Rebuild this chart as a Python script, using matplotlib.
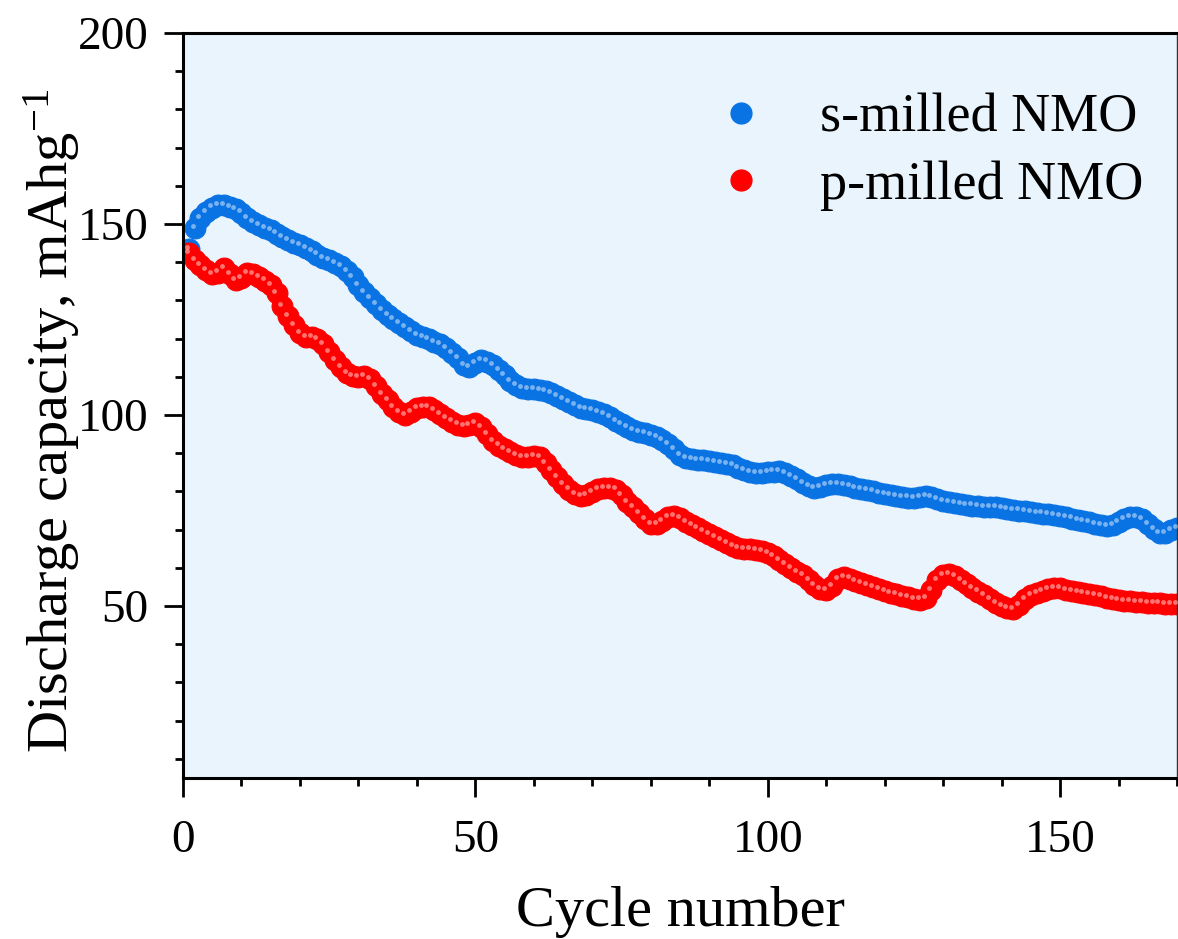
import numpy as np
import matplotlib
matplotlib.use('Agg')
import matplotlib.pyplot as plt
from matplotlib.lines import Line2D
from matplotlib.ticker import MultipleLocator
import matplotlib.transforms as mtrans

plt.rcParams['font.family'] = ['Liberation Serif', 'DejaVu Serif']
plt.rcParams['mathtext.fontset'] = 'custom'
plt.rcParams['mathtext.rm'] = 'Liberation Serif'
plt.rcParams['mathtext.it'] = 'Liberation Serif:italic'

# discharge capacity per cycle, mAh/g
s_milled = [
    143.5, 149.0, 151.5, 153.2, 154.3, 155.0, 155.0, 154.5, 153.8, 153.0,
    151.5, 150.5, 149.8, 149.0, 148.3, 147.5, 146.5, 145.8, 145.0, 144.5,
    143.8, 142.8, 142.0, 141.2, 140.5, 139.8, 139.0, 137.8, 136.0, 134.0,
    132.3, 130.5, 129.0, 127.5, 126.2, 125.0, 124.0, 123.0, 122.0, 121.0,
    120.3, 119.8, 119.2, 118.5, 117.5, 116.3, 114.8, 113.0, 112.5, 113.5,
    114.3, 114.0, 113.0, 111.8, 110.5, 109.0, 107.8, 107.0, 106.8, 106.8,
    106.5, 106.3, 105.8, 105.0, 104.2, 103.3, 102.5, 101.8, 101.5, 101.2,
    100.8, 100.3, 99.5, 98.5, 97.6, 96.8, 96.0, 95.5, 95.2, 94.8,
    94.2, 93.5, 92.4, 91.0, 89.5, 88.7, 88.4, 88.3, 88.2, 88.0,
    87.8, 87.5, 87.2, 86.8, 86.2, 85.6, 85.1, 84.9, 84.9, 85.0,
    85.2, 85.3, 84.8, 84.0, 83.2, 82.3, 81.5, 81.0, 81.2, 81.7,
    82.0, 81.9, 81.7, 81.4, 81.0, 80.7, 80.4, 80.0, 79.6, 79.3,
    79.1, 78.9, 78.6, 78.4, 78.3, 78.6, 78.8, 78.6, 78.0, 77.6,
    77.3, 77.0, 76.7, 76.5, 76.3, 76.1, 76.0, 75.9, 75.8, 75.6,
    75.4, 75.2, 75.0, 74.8, 74.6, 74.4, 74.2, 74.0, 73.8, 73.5,
    73.2, 72.9, 72.6, 72.3, 71.9, 71.5, 71.1, 70.9, 71.2, 72.0,
    72.8, 73.3, 73.4, 72.8, 71.5, 70.2, 69.2, 69.0, 69.8, 70.4,
]
p_milled = [
    142.3, 140.5, 139.3, 138.0, 136.8, 137.3, 138.5, 137.0, 135.3, 135.8,
    137.2, 137.0, 136.2, 135.2, 134.0, 132.0, 128.5, 125.8, 123.5, 121.5,
    120.5, 120.3, 120.0, 118.5, 116.5, 114.5, 112.5, 111.0, 110.2, 110.0,
    110.3, 109.5, 107.5, 105.5, 103.8, 102.2, 100.8, 100.0, 100.7, 101.8,
    102.2, 102.0, 101.3, 100.3, 99.2, 98.3, 97.5, 97.0, 97.3, 97.8,
    96.8, 95.0, 93.3, 92.0, 91.0, 90.2, 89.5, 89.0, 88.9, 89.3,
    89.0, 87.5, 85.5, 83.7, 82.0, 80.5, 79.2, 78.7, 79.0, 79.8,
    80.6, 81.0, 81.0, 80.5, 79.0, 77.3, 75.8, 74.3, 72.8, 71.5,
    71.5, 72.3, 73.3, 73.6, 73.0, 72.0, 71.2, 70.4, 69.6, 68.8,
    68.0, 67.2, 66.4, 65.6, 65.1, 64.9, 64.8, 64.6, 64.3, 63.8,
    63.0, 62.0, 61.0, 60.0, 59.0, 58.0, 56.8, 55.5, 54.5, 54.2,
    55.3, 57.0, 57.6, 57.2, 56.6, 56.0, 55.4, 54.9, 54.4, 54.0,
    53.5, 53.1, 52.7, 52.3, 51.9, 51.7, 52.2, 54.3, 56.8, 58.2,
    58.4, 57.8, 56.8, 55.8, 54.8, 53.8, 52.8, 51.8, 50.8, 50.0,
    49.4, 49.3, 50.2, 51.8, 52.8, 53.4, 54.0, 54.5, 54.8, 54.6,
    54.3, 54.0, 53.7, 53.4, 53.1, 52.8, 52.5, 52.2, 51.9, 51.6,
    51.4, 51.2, 51.1, 51.0, 50.9, 50.8, 50.7, 50.6, 50.5, 50.5,
]
cycles = np.arange(1, len(s_milled) + 1)

blue = '#0A73E4'
red = '#FF0000'

fig = plt.figure(figsize=(11.78, 9.39), dpi=100)
ax = fig.add_axes([0.1553, 0.1715, 0.8439, 0.7934])
ax.set_facecolor('#EAF4FD')

# little white glint on each ball, shifted up-left
glint = mtrans.offset_copy(ax.transData, fig=fig, x=-1.5, y=1.5, units='points')
for y, c in [(s_milled, blue), (p_milled, red)]:
    ax.plot(cycles, y, 'o', ms=15, mfc=c, mec=c, mew=0.8, zorder=2)
    ax.plot(cycles, y, 'o', ms=3.5, mfc='white', mec='none', alpha=0.45,
            transform=glint, zorder=3)

ax.set_xlim(0, 170)
ax.set_ylim(5, 200)
ax.xaxis.set_major_locator(MultipleLocator(50))
ax.xaxis.set_minor_locator(MultipleLocator(10))
ax.yaxis.set_major_locator(MultipleLocator(50))
ax.yaxis.set_minor_locator(MultipleLocator(10))
ax.tick_params(which='both', direction='out', width=2.0, labelsize=34,
               top=False, right=False)
ax.tick_params(which='major', length=14)
ax.tick_params(which='minor', length=6)
ax.tick_params(axis='x', which='major', pad=16)
ax.tick_params(axis='y', which='major', pad=11)

for s in ['left', 'bottom', 'top']:
    ax.spines[s].set_linewidth(2.2)
ax.spines['right'].set_linewidth(1.0)
ax.spines['right'].set_color('#333333')

ax.set_xlabel('Cycle number', fontsize=42, labelpad=17)
ax.set_ylabel('Discharge capacity, mAhg$\\mathregular{^{-1}}$', fontsize=42, labelpad=-3)
ax.yaxis.label.set_y(0.48)

handles = [Line2D([], [], ls='none', marker='o', ms=15, mfc=blue, mec=blue),
           Line2D([], [], ls='none', marker='o', ms=15, mfc=red, mec=red)]
ax.legend(handles, ['s-milled NMO', 'p-milled NMO'], loc='upper left',
          bbox_to_anchor=(0.529, 0.919), frameon=False, fontsize=39,
          borderpad=0, borderaxespad=0,
          handlelength=1.2, handletextpad=0.85, labelspacing=0.3)

fig.savefig('out.png', dpi=100)
